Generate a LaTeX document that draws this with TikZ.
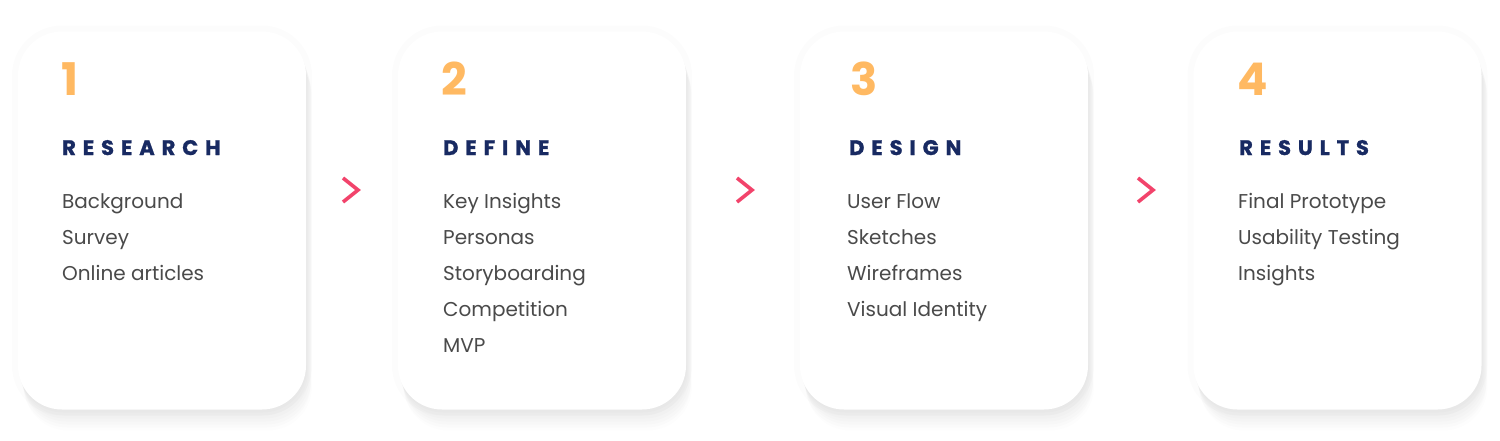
\documentclass[tikz,border=0pt]{standalone}
\usepackage{fontspec}
\setmainfont{Poppins}
\newfontfamily\headfont[LetterSpace=33,BoldFeatures={FakeBold=1.2}]{Poppins}
\usepackage{tikz}
\usetikzlibrary{positioning}

\definecolor{numorange}{HTML}{FFB962}
\definecolor{headblue}{HTML}{182A62}
\definecolor{itemgrey}{HTML}{4A4A4A}
\definecolor{chevpink}{HTML}{F2436B}

\begin{document}
\begin{tikzpicture}[x=1pt,y=-1pt,
  card/.style={shape=rectangle,rounded corners=44pt,minimum width=288pt,minimum height=378pt,inner sep=0pt,fill=white,
    preaction={draw=black,line width=12pt,opacity=0.01},
    preaction={fill=black,opacity=0.012,transform canvas={xshift=1pt,yshift=-3pt}},
    preaction={fill=black,opacity=0.012,transform canvas={xshift=2pt,yshift=-6pt}},
    preaction={fill=black,opacity=0.012,transform canvas={xshift=3pt,yshift=-9pt}},
    preaction={fill=black,opacity=0.012,transform canvas={xshift=4pt,yshift=-12pt}},
    preaction={fill=black,opacity=0.011,transform canvas={xshift=5pt,yshift=-15pt}},
    preaction={fill=black,opacity=0.010,transform canvas={xshift=5pt,yshift=-18pt}},
    preaction={fill=black,opacity=0.008,transform canvas={xshift=6pt,yshift=-21pt}}},
  num/.style={anchor=base west,inner sep=0pt,text=numorange,font=\fontsize{45}{45}\selectfont\bfseries},
  head/.style={anchor=base west,inner sep=0pt,text=headblue,font=\headfont\fontsize{21}{21}\selectfont\bfseries},
  item/.style={anchor=base west,inner sep=0pt,text=itemgrey,font=\fontsize{20}{20}\selectfont},
  chev/.style={draw=chevpink,line width=3.6pt}]
\fill[white] (0,0) rectangle (1500,440);
\useasboundingbox (0,0) rectangle (1500,440);

\node[card] (research) at (162,220.5) {};
\node[card] (define) at (542,220.5) {};
\node[card] (design) at (944,220.5) {};
\node[card] (results) at (1337.5,220.5) {};

% step 1
\node[num] (n1) at (61,95) {1};
\node[head] (h1) at (62,155) {RESEARCH};
\node[item] (r1) at (62,208) {Background};
\node[item] (r2) at (62,244) {Survey};
\node[item] (r3) at (62,280) {Online articles};

% step 2
\node[num] (n2) at (441,95) {2};
\node[head] (h2) at (443,155) {DEFINE};
\node[item] (d1) at (443,208) {Key Insights};
\node[item] (d2) at (443,244) {Personas};
\node[item] (d3) at (443,280) {Storyboarding};
\node[item] (d4) at (443,316) {Competition};
\node[item] (d5) at (443,352) {MVP};

% step 3
\node[num] (n3) at (850,95) {3};
\node[head] (h3) at (849,155) {DESIGN};
\node[item] (g1) at (847,208) {User Flow};
\node[item] (g2) at (847,244) {Sketches};
\node[item] (g3) at (847,280) {Wireframes};
\node[item] (g4) at (847,316) {Visual Identity};

% step 4
\node[num] (n4) at (1237,95) {4};
\node[head] (h4) at (1239,155) {RESULTS};
\node[item] (s1) at (1238,208) {Final Prototype};
\node[item] (s2) at (1238,244) {Usability Testing};
\node[item] (s3) at (1238,280) {Insights};

% chevrons between the cards
\coordinate (a1) at (351,190);
\coordinate (a2) at (745,190);
\coordinate (a3) at (1146,190);
\draw[chev] (a1) ++(-8,-12) -- ++(15,12) -- ++(-15,12);
\draw[chev] (a2) ++(-8,-12) -- ++(15,12) -- ++(-15,12);
\draw[chev] (a3) ++(-8,-12) -- ++(15,12) -- ++(-15,12);
\end{tikzpicture}
\end{document}
